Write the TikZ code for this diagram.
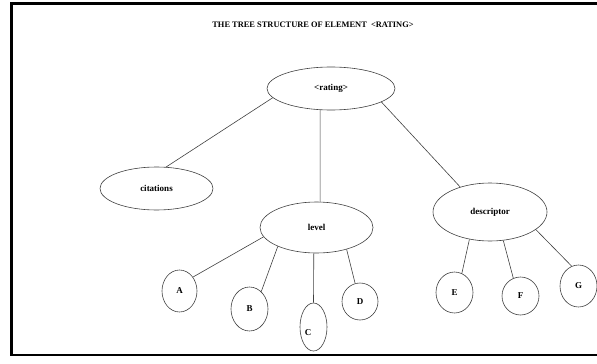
\documentclass[tikz,border=0pt]{standalone}
\usepackage{fontspec}
\setmainfont{Liberation Serif}
\usepackage{xcolor}
\usepackage{tikz}
\usetikzlibrary{shapes.geometric}

\begin{document}
\begin{tikzpicture}[x=1pt,y=-1pt]
\tikzstyle{frameline}=[line width=2.6pt, draw=black]
\tikzstyle{elem}=[ellipse, draw=black!75, line width=0.6pt, inner sep=0pt, font=\fontsize{9}{10}\selectfont\bfseries]
\tikzstyle{branch}=[draw=black!75, line width=0.6pt]
\tikzstyle{heading}=[font=\fontsize{8.4}{10}\selectfont\bfseries]

\useasboundingbox (0,0) rectangle (597,364);

% Page frame, cut off at the right
\path[frameline] (605,3.5) -- (11.5,3.5) -- (11.5,355) -- (605,355);

\node[heading] (title) at (313,25) {THE TREE STRUCTURE OF ELEMENT \ {<}RATING{>}};

% Elements
\node[elem, minimum width=128pt, minimum height=43pt] (rating) at (331,88.5) {{<}rating{>}};
\node[elem, minimum width=113pt, minimum height=43pt] (citations) at (156.5,188.5) {citations};
\node[elem, minimum width=113pt, minimum height=51pt] (level) at (316.5,227.5) {level};
\node[elem, minimum width=114pt, minimum height=58pt] (descriptor) at (490,212) {descriptor};

\node[elem, minimum width=35pt, minimum height=42pt] (A) at (179.5,291) {A};
\node[elem, minimum width=37pt, minimum height=44pt] (B) at (249.5,309) {B};
\node[elem, minimum width=27pt, minimum height=48pt] (C) at (313.5,327) {};
\node at (308,333) [font=\fontsize{9}{10}\selectfont\bfseries] (Clabel) {C};
\node[elem, minimum width=36pt, minimum height=37pt] (D) at (360,301.5) {D};

\node[elem, minimum width=37pt, minimum height=41pt] (E) at (454.5,292.5) {E};
\node[elem, minimum width=37pt, minimum height=38pt] (F) at (520.5,296) {F};
\node[elem, minimum width=37pt, minimum height=42pt] (G) at (578.5,286) {G};

% Branches
\path[branch] (rating.189) -- (citations.66);
\path[branch] (rating.243) -- (level.82);
\path[branch] (rating.345) -- (descriptor.140);

\path[branch] (level.190) -- (A.46);
\path[branch] (level.206) -- (B.56);
\path[branch] (level.264) -- (C.90);
\path[branch] (level.324) -- (D.105);

\path[branch] (descriptor.233) -- (E.69);
\path[branch] (descriptor.295) -- (F.112);
\path[branch] (descriptor.339) -- (G.109);
\end{tikzpicture}
\end{document}
